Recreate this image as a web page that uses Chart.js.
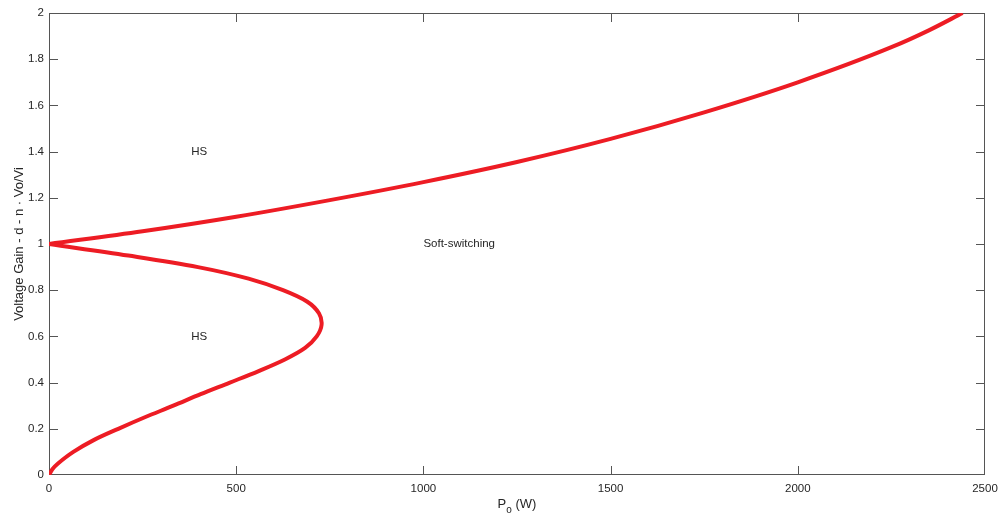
<!DOCTYPE html>
<html>
<head>
<meta charset="utf-8">
<script src="https://cdn.jsdelivr.net/npm/chart.js@4.4.1/dist/chart.umd.min.js"></script>
<style>
  body { margin: 0; background: #fff; }
  canvas { display: block; }
</style>
</head>
<body>
<canvas id="chart" width="1002" height="518"></canvas>
<script>
// lower branch: 0 -> 1 (hard switching bulge)
const lowerGain  = [0, 0.025, 0.05, 0.1, 0.15, 0.2, 0.25, 0.3, 0.35, 0.4, 0.45, 0.5, 0.55, 0.6, 0.65, 0.7, 0.75, 0.8, 0.85, 0.9, 0.95, 1]
const lowerPower = [0, 9, 24, 65, 118, 185, 256, 332, 405, 483, 560, 630, 684, 715, 728, 721, 690, 625, 533, 398, 212, 0]

// upper branch: 1 -> 2
const upperPower = [0, 250, 500, 750, 1000, 1250, 1500, 1750, 2000, 2250, 2350, 2440]
const upperGain  = [1, 1.055, 1.118, 1.19, 1.268, 1.355, 1.455, 1.57, 1.70, 1.852, 1.925, 2.0]

const xTicks = [0, 500, 1000, 1500, 2000, 2500]
const xTickLabels = ['0', '500', '1000', '1500', '2000', '2500']
const yTicks = [0, 0.2, 0.4, 0.6, 0.8, 1, 1.2, 1.4, 1.6, 1.8, 2]
const yTickLabels = ['0', '0.2', '0.4', '0.6', '0.8', '1', '1.2', '1.4', '1.6', '1.8', '2']

const noteText  = ['HS', 'HS', 'Soft-switching']
const notePower = [380, 380, 1000]
const noteGain  = [1.4, 0.6, 1.0]

const xTitle = 'P'
const xTitleSub = 'o'
const xTitleRest = ' (W)'
const yTitle = 'Voltage Gain - d - n \u00b7 Vo/Vi'

const red = '#ED1C24'
const axisColor = '#555'
const textColor = '#262626'
const fontFamily = '"Liberation Sans", Arial, Helvetica, sans-serif'

Chart.defaults.font.family = fontFamily
Chart.defaults.color = textColor

const toPoints = (xs, ys) => xs.map((x, i) => ({x: x, y: ys[i]}))

// box, inward ticks, axis titles and text notes, MATLAB style
const matlabAxes = {
    id: 'matlabAxes',
    beforeDatasetsDraw(chart) {
        const {ctx, chartArea: a, scales: {x, y}} = chart
        ctx.save()
        ctx.strokeStyle = axisColor
        ctx.lineWidth = 1
        ctx.beginPath()
        ctx.rect(a.left + 0.5, a.top + 0.5, a.right - a.left - 1, a.bottom - a.top - 1)
        const len = 9
        xTicks.forEach((v) => {
            const px = Math.min(Math.round(x.getPixelForValue(v)), a.right - 1) + 0.5
            ctx.moveTo(px, a.bottom); ctx.lineTo(px, a.bottom - len)
            ctx.moveTo(px, a.top); ctx.lineTo(px, a.top + len)
        })
        yTicks.forEach((v) => {
            const py = Math.min(Math.round(y.getPixelForValue(v)), a.bottom - 1) + 0.5
            ctx.moveTo(a.left, py); ctx.lineTo(a.left + len, py)
            ctx.moveTo(a.right, py); ctx.lineTo(a.right - len, py)
        })
        ctx.stroke()
        ctx.restore()
    },
    afterDraw(chart) {
        const {ctx, chartArea: a, scales: {x, y}} = chart
        ctx.save()
        ctx.fillStyle = textColor

        // notes
        ctx.font = '11.5px ' + fontFamily
        ctx.textAlign = 'left'
        ctx.textBaseline = 'middle'
        noteText.forEach((t, i) => {
            ctx.fillText(t, x.getPixelForValue(notePower[i]), y.getPixelForValue(noteGain[i]))
        })

        // x title with subscript
        ctx.textBaseline = 'alphabetic'
        ctx.font = '13px ' + fontFamily
        const wP = ctx.measureText(xTitle).width
        const wR = ctx.measureText(xTitleRest).width
        ctx.font = '10px ' + fontFamily
        const wS = ctx.measureText(xTitleSub).width
        const total = wP + wS + wR
        let tx = (a.left + a.right) / 2 - total / 2
        const base = 508
        ctx.font = '13px ' + fontFamily
        ctx.fillText(xTitle, tx, base)
        tx += wP
        ctx.font = '10px ' + fontFamily
        ctx.fillText(xTitleSub, tx, base + 5)
        tx += wS
        ctx.font = '13px ' + fontFamily
        ctx.fillText(xTitleRest, tx, base)

        // y title, rotated
        ctx.translate(19, (a.top + a.bottom) / 2)
        ctx.rotate(-Math.PI / 2)
        ctx.textAlign = 'center'
        ctx.textBaseline = 'middle'
        ctx.font = '13px ' + fontFamily
        ctx.fillText(yTitle, 0, 0)
        ctx.restore()
    }
}

const ctx = document.getElementById('chart').getContext('2d')

const chart = new Chart(ctx, {
    type: 'scatter',
    data: {
        datasets: [{
            data: toPoints(lowerPower, lowerGain),
            showLine: true,
            borderColor: red,
            borderWidth: 4,
            tension: 0.35,
            pointRadius: 0,
            fill: false
        }, {
            data: toPoints(upperPower, upperGain),
            showLine: true,
            borderColor: red,
            borderWidth: 4,
            cubicInterpolationMode: 'monotone',
            pointRadius: 0,
            fill: false
        }]
    },
    options: {
        responsive: false,
        devicePixelRatio: 1,
        animation: false,
        layout: { padding: { top: 13, right: 17, left: 0, bottom: 0 } },
        plugins: {
            legend: { display: false },
            tooltip: { enabled: false }
        },
        scales: {
            x: {
                type: 'linear',
                min: 0,
                max: 2500,
                grid: { display: false, drawTicks: false, tickLength: 0 },
                border: { display: false },
                afterBuildTicks: (scale) => { scale.ticks = xTicks.map((v) => ({value: v})) },
                afterFit: (scale) => {
                    scale.height = 43
                    scale.paddingLeft = 0
                    scale.paddingRight = 0
                },
                ticks: {
                    padding: 7,
                    maxRotation: 0,
                    font: { size: 11.5 },
                    color: textColor,
                    callback: (v, i) => xTickLabels[i]
                }
            },
            y: {
                type: 'linear',
                min: 0,
                max: 2,
                grid: { display: false, drawTicks: false, tickLength: 0 },
                border: { display: false },
                afterBuildTicks: (scale) => { scale.ticks = yTicks.map((v) => ({value: v})) },
                afterFit: (scale) => {
                    scale.width = 49
                    scale.paddingTop = 0
                    scale.paddingBottom = 0
                },
                ticks: {
                    padding: 5,
                    font: { size: 11.5 },
                    color: textColor,
                    callback: (v, i) => yTickLabels[i]
                }
            }
        }
    },
    plugins: [matlabAxes]
})
</script>
</body>
</html>
